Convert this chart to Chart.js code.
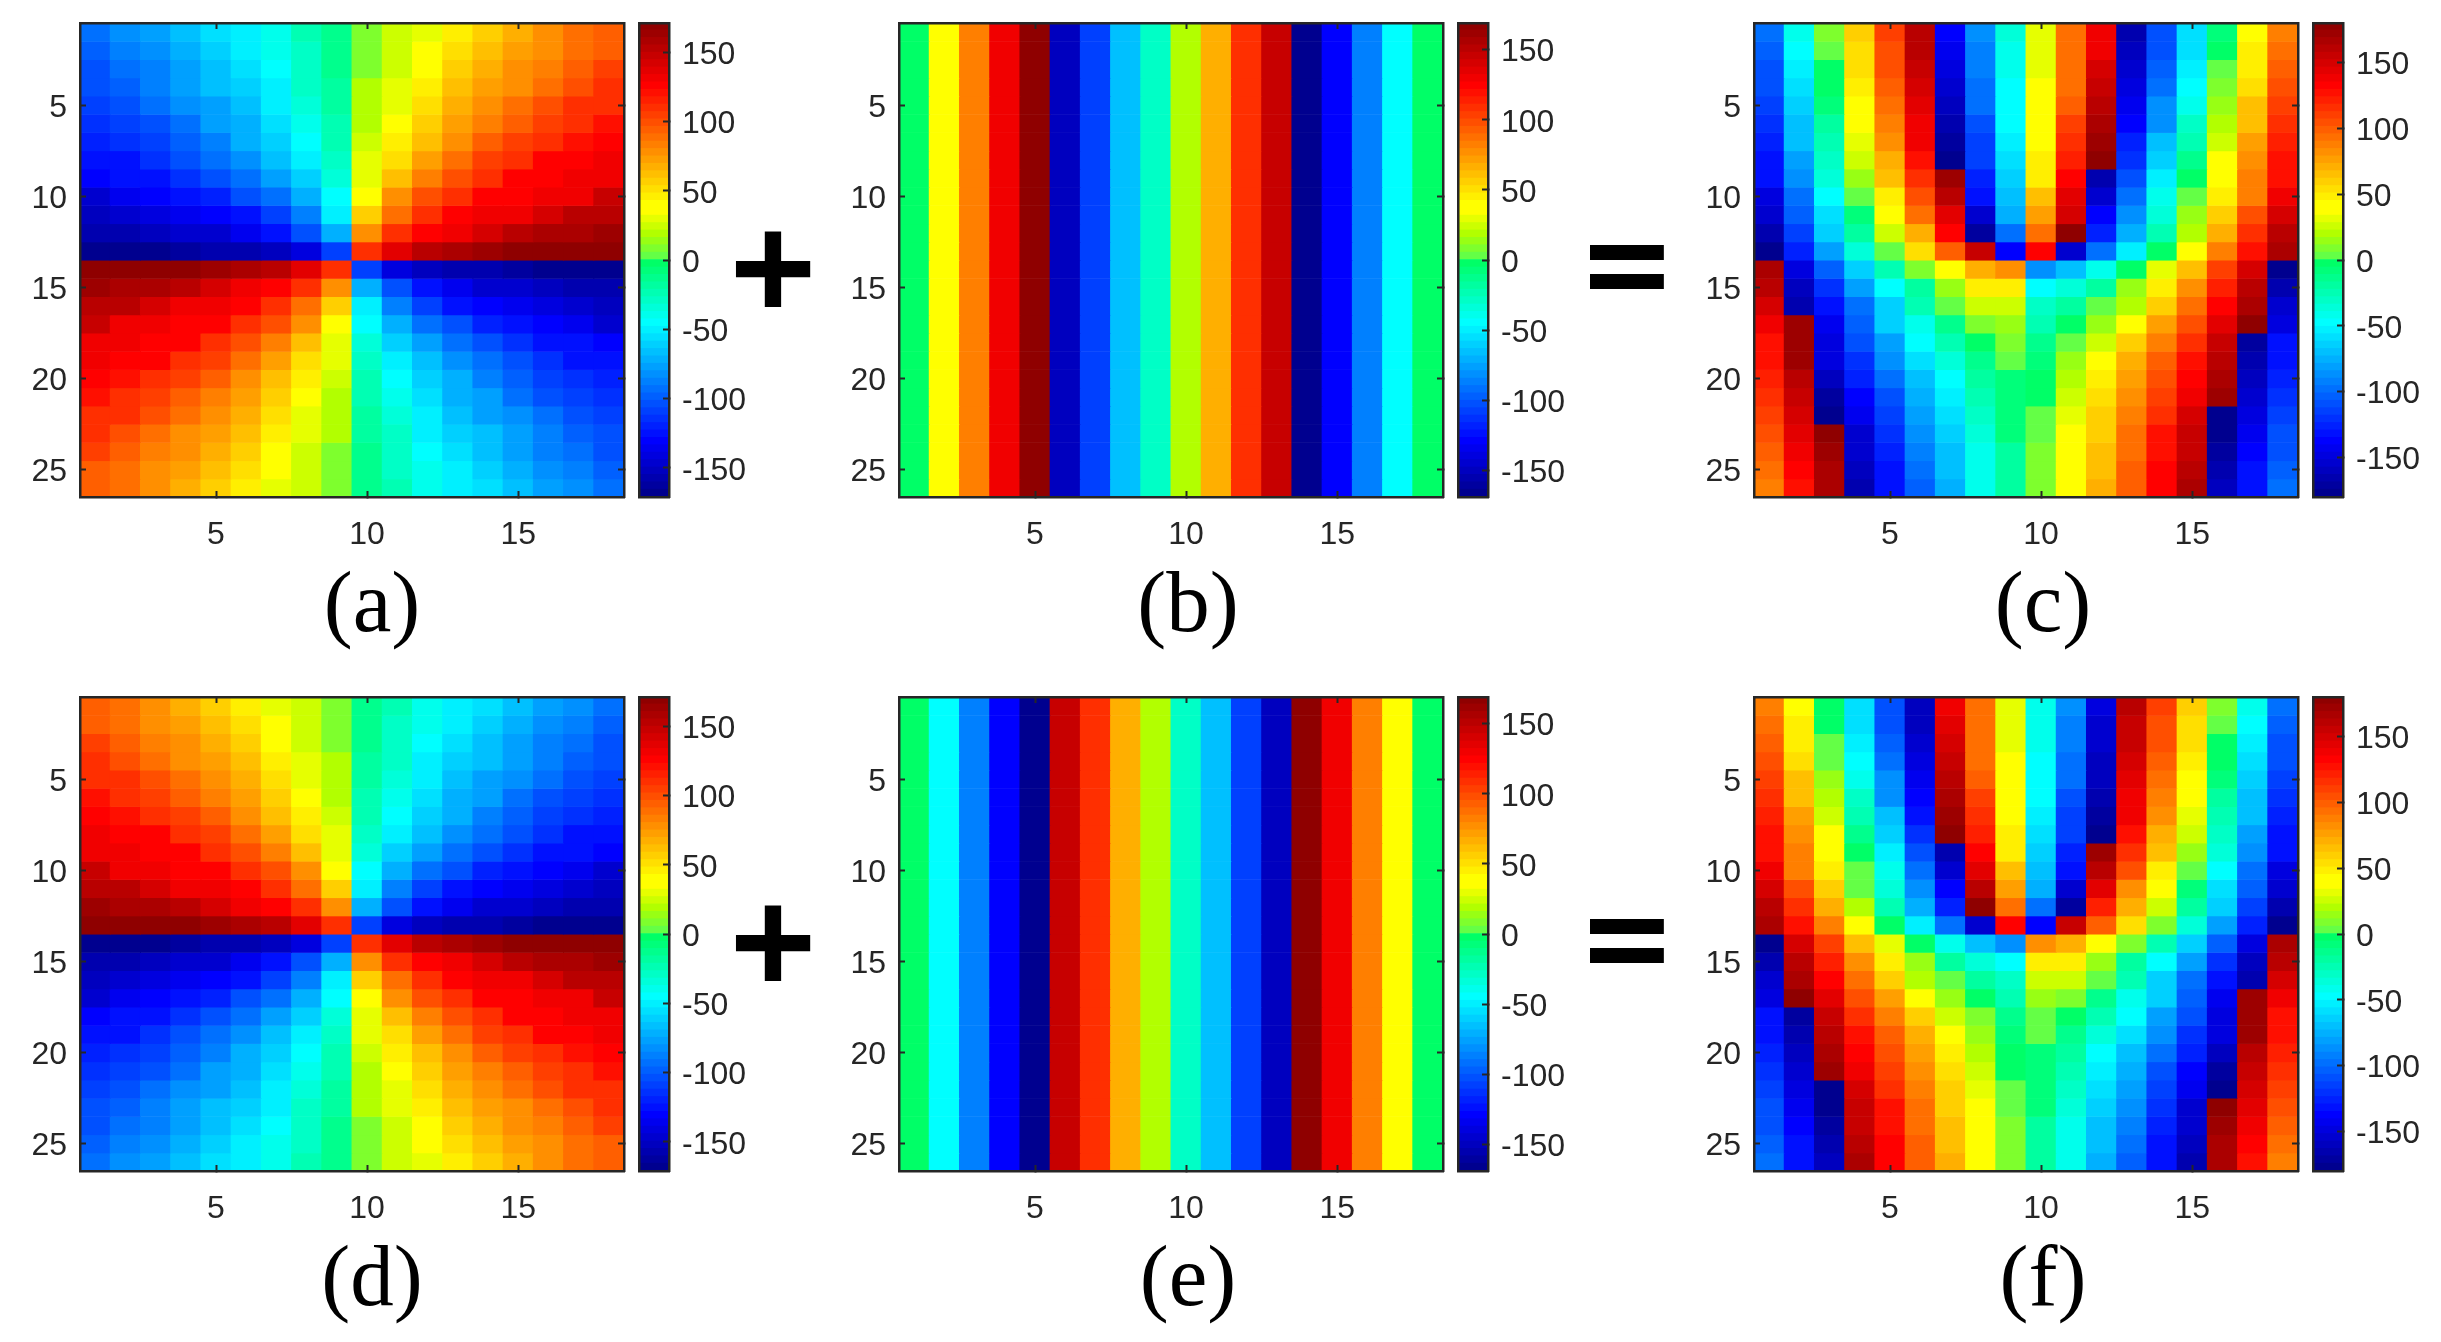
<!DOCTYPE html>
<html><head><meta charset="utf-8">
<script src="https://cdn.jsdelivr.net/npm/chart.js@4"></script>
<style>
html,body{margin:0;padding:0;background:#fff;width:2441px;height:1342px;overflow:hidden}
canvas{position:absolute}
.cap{position:absolute;font-family:"Liberation Serif",serif;font-size:87px;line-height:87px;color:#000;transform:translateX(-50%);white-space:pre}
.op{position:absolute;font-family:"Liberation Sans",sans-serif;font-weight:bold;font-size:148px;line-height:148px;color:#000;transform:translateX(-50%)}
.op.eq{font-family:"DejaVu Sans",sans-serif;font-size:118px;line-height:118px;transform:translateX(-50%) scaleY(1.1)}
</style></head><body>
<script>
const xTicks=[5,10,15];
const yTicks=[5,10,15,20,25];
const barTicks=[-150,-100,-50,0,50,100,150];
const columns=[1,2,3,4,5,6,7,8,9,10,11,12,13,14,15,16,17,18];
const rowNumbers=[1,2,3,4,5,6,7,8,9,10,11,12,13,14,15,16,17,18,19,20,21,22,23,24,25,26];

const panelA=[
[-92,-85,-78,-68,-58,-50,-38,-25,-12,10,22,32,48,58,68,80,86,92],
[-97,-90,-82,-72,-62,-53,-42,-27,-13,10,24,38,50,60,70,80,90,95],
[-102,-95,-86,-77,-65,-57,-45,-30,-14,9,25,40,55,65,75,85,95,102],
[-105,-100,-90,-80,-68,-60,-50,-32,-18,18,27,47,60,70,80,90,100,108],
[-110,-105,-95,-85,-75,-65,-50,-35,-20,18,32,50,66,78,88,98,108,112],
[-115,-110,-102,-92,-80,-70,-55,-42,-22,18,42,58,72,82,95,106,112,120],
[-120,-115,-108,-98,-88,-74,-62,-48,-25,22,45,62,80,95,105,112,120,125],
[-126,-123,-115,-105,-95,-82,-68,-52,-30,28,52,72,90,102,112,125,128,130],
[-130,-128,-123,-115,-104,-92,-80,-60,-34,30,62,85,100,112,125,128,130,132],
[-145,-138,-132,-128,-118,-106,-92,-70,-45,42,75,98,110,125,128,130,132,145],
[-150,-148,-144,-138,-132,-128,-108,-88,-50,55,90,112,125,130,132,142,150,152],
[-160,-156,-152,-148,-145,-138,-128,-105,-70,75,112,125,132,143,150,155,158,165],
[-170,-168,-167,-165,-160,-155,-150,-140,-110,110,135,152,157,165,170,170,170,170],
[170,170,170,168,165,157,152,135,110,-110,-140,-150,-155,-160,-165,-167,-168,-170],
[165,158,155,150,143,132,125,112,75,-70,-105,-128,-138,-145,-148,-152,-156,-160],
[152,150,142,132,130,125,112,90,55,-50,-88,-108,-128,-132,-138,-144,-148,-150],
[145,132,130,128,125,110,98,75,42,-45,-70,-92,-106,-118,-128,-132,-138,-145],
[132,130,128,125,112,100,85,62,30,-34,-60,-80,-92,-104,-115,-123,-128,-130],
[130,128,125,112,102,90,72,52,28,-30,-52,-68,-82,-95,-105,-115,-123,-126],
[125,120,112,105,95,80,62,45,22,-25,-48,-62,-74,-88,-98,-108,-115,-120],
[120,112,106,95,82,72,58,42,18,-22,-42,-55,-70,-80,-92,-102,-110,-115],
[112,108,98,88,78,66,50,32,18,-20,-35,-50,-65,-75,-85,-95,-105,-110],
[108,100,90,80,70,60,47,27,18,-18,-32,-50,-60,-68,-80,-90,-100,-105],
[102,95,85,75,65,55,40,25,9,-14,-30,-45,-57,-65,-77,-86,-95,-102],
[95,90,80,70,60,50,38,24,10,-13,-27,-42,-53,-62,-72,-82,-90,-97],
[92,86,80,68,58,48,32,22,10,-12,-25,-38,-50,-58,-68,-78,-85,-92]];

const panelB=[-5,42,82,128,168,-150,-110,-65,-28,20,68,108,145,-168,-128,-85,-45,-5];

const panelC=[
[-97,-43,7,60,110,160,-140,-90,-38,32,90,135,-165,-110,-60,-8,41,87],
[-102,-48,3,56,106,163,-145,-92,-41,30,92,140,-160,-108,-58,-5,45,90],
[-107,-53,-1,51,103,153,-150,-95,-42,29,93,148,-155,-103,-53,0,50,97],
[-110,-58,-5,48,100,150,-155,-97,-46,36,95,155,-150,-98,-48,8,55,103],
[-115,-63,-10,43,93,145,-160,-100,-48,38,100,158,-144,-90,-40,13,63,107],
[-120,-68,-17,36,88,140,-165,-107,-50,38,110,166,-138,-86,-33,21,67,115],
[-125,-73,-23,30,80,136,-172,-113,-53,42,113,170,-128,-73,-23,27,75,120],
[-131,-81,-30,23,73,128,-178,-117,-58,48,120,180,-120,-66,-16,40,83,125],
[-135,-86,-38,13,64,118,170,-125,-62,50,130,-167,-110,-56,-3,43,85,127],
[-150,-96,-47,0,50,102,158,-135,-73,62,143,-154,-100,-43,0,45,87,140],
[-155,-106,-59,-10,36,90,142,-153,-78,75,150,-140,-85,-38,12,57,105,147],
[-165,-114,-67,-20,23,72,132,-170,-98,95,180,-127,-78,-25,22,70,113,160],
[-175,-126,-82,-37,2,55,100,155,-138,130,-157,-100,-53,-3,42,85,125,165],
[165,-148,-105,-64,-27,7,42,70,82,-90,-72,-42,-5,32,67,108,147,-175],
[160,-160,-120,-82,-49,-18,15,47,47,-50,-37,-20,12,47,84,123,159,-165],
[147,-168,-133,-100,-62,-25,2,25,27,-30,-20,0,22,60,94,131,167,-155],
[140,174,-145,-104,-67,-40,-12,10,14,-25,-2,16,44,74,104,143,177,-150],
[127,172,-147,-107,-80,-50,-25,-3,8,-14,0,28,58,88,117,152,-173,-135],
[125,170,-150,-120,-90,-60,-38,-13,0,-10,16,40,68,97,127,160,-168,-131],
[120,162,-163,-127,-97,-70,-48,-20,-6,-5,20,46,76,104,134,167,-160,-125],
[115,154,-169,-137,-110,-78,-52,-23,-10,-2,26,53,80,112,140,173,-155,-120],
[107,150,-177,-144,-114,-84,-60,-33,-10,0,33,58,85,117,147,-180,-150,-115],
[103,142,175,-152,-122,-90,-63,-38,-10,2,36,58,90,124,152,-175,-145,-110],
[97,137,170,-157,-127,-95,-70,-40,-19,6,38,63,93,127,155,-171,-140,-107],
[90,132,165,-162,-132,-100,-72,-41,-18,7,41,66,97,130,160,-167,-135,-102],
[87,128,165,-164,-134,-102,-78,-43,-18,8,43,70,100,134,164,-163,-130,-97]];

const panelD=[
[92,86,80,68,58,48,32,22,10,-12,-25,-38,-50,-58,-68,-78,-85,-92],
[95,90,80,70,60,50,38,24,10,-13,-27,-42,-53,-62,-72,-82,-90,-97],
[102,95,85,75,65,55,40,25,9,-14,-30,-45,-57,-65,-77,-86,-95,-102],
[108,100,90,80,70,60,47,27,18,-18,-32,-50,-60,-68,-80,-90,-100,-105],
[112,108,98,88,78,66,50,32,18,-20,-35,-50,-65,-75,-85,-95,-105,-110],
[120,112,106,95,82,72,58,42,18,-22,-42,-55,-70,-80,-92,-102,-110,-115],
[125,120,112,105,95,80,62,45,22,-25,-48,-62,-74,-88,-98,-108,-115,-120],
[130,128,125,112,102,90,72,52,28,-30,-52,-68,-82,-95,-105,-115,-123,-126],
[132,130,128,125,112,100,85,62,30,-34,-60,-80,-92,-104,-115,-123,-128,-130],
[145,132,130,128,125,110,98,75,42,-45,-70,-92,-106,-118,-128,-132,-138,-145],
[152,150,142,132,130,125,112,90,55,-50,-88,-108,-128,-132,-138,-144,-148,-150],
[165,158,155,150,143,132,125,112,75,-70,-105,-128,-138,-145,-148,-152,-156,-160],
[170,170,170,168,165,157,152,135,110,-110,-140,-150,-155,-160,-165,-167,-168,-170],
[-170,-168,-167,-165,-160,-155,-150,-140,-110,110,135,152,157,165,170,170,170,170],
[-160,-156,-152,-148,-145,-138,-128,-105,-70,75,112,125,132,143,150,155,158,165],
[-150,-148,-144,-138,-132,-128,-108,-88,-50,55,90,112,125,130,132,142,150,152],
[-145,-138,-132,-128,-118,-106,-92,-70,-45,42,75,98,110,125,128,130,132,145],
[-130,-128,-123,-115,-104,-92,-80,-60,-34,30,62,85,100,112,125,128,130,132],
[-126,-123,-115,-105,-95,-82,-68,-52,-30,28,52,72,90,102,112,125,128,130],
[-120,-115,-108,-98,-88,-74,-62,-48,-25,22,45,62,80,95,105,112,120,125],
[-115,-110,-102,-92,-80,-70,-55,-42,-22,18,42,58,72,82,95,106,112,120],
[-110,-105,-95,-85,-75,-65,-50,-35,-20,18,32,50,66,78,88,98,108,112],
[-105,-100,-90,-80,-68,-60,-50,-32,-18,18,27,47,60,70,80,90,100,108],
[-102,-95,-86,-77,-65,-57,-45,-30,-14,9,25,40,55,65,75,85,95,102],
[-97,-90,-82,-72,-62,-53,-42,-27,-13,10,24,38,50,60,70,80,90,95],
[-92,-85,-78,-68,-58,-50,-38,-25,-12,10,22,32,48,58,68,80,86,92]];

const panelE=[-5,-45,-85,-128,-168,145,108,68,20,-28,-65,-110,-150,168,128,82,42,-5];

const panelF=[
[87,41,-5,-60,-110,-162,140,90,30,-40,-90,-148,160,110,60,7,-43,-97],
[90,45,-5,-58,-108,-160,146,92,30,-41,-92,-152,157,106,56,3,-48,-102],
[97,50,0,-53,-103,-155,148,93,29,-42,-95,-155,153,103,51,-1,-53,-107],
[103,55,5,-48,-98,-150,155,95,38,-46,-97,-160,150,100,48,-5,-58,-110],
[107,63,13,-40,-90,-144,158,100,38,-48,-100,-160,145,93,43,-10,-63,-115],
[115,67,21,-33,-86,-138,166,110,38,-50,-107,-165,140,88,36,-17,-68,-120],
[120,75,27,-23,-73,-130,170,113,42,-53,-113,-172,136,80,30,-23,-73,-125],
[125,83,40,-16,-66,-120,180,120,48,-58,-117,-178,128,73,23,-30,-81,-131],
[127,85,43,-3,-56,-110,-167,130,50,-62,-125,170,118,64,13,-38,-86,-135],
[140,87,45,0,-43,-100,-154,143,62,-73,-135,158,104,50,0,-47,-96,-150],
[147,105,57,4,-38,-85,-140,158,75,-78,-153,142,82,36,-10,-59,-106,-155],
[160,113,70,22,-25,-78,-127,180,95,-98,-170,122,72,23,-20,-67,-114,-165],
[165,125,85,40,-3,-53,-100,-157,130,-138,155,100,55,8,-37,-82,-126,-175],
[-175,147,108,67,32,-5,-42,-72,-90,82,70,42,7,-27,-62,-105,-148,165],
[-165,159,123,84,47,12,-20,-37,-50,47,47,15,-18,-49,-82,-120,-160,160],
[-155,167,131,94,60,22,0,-20,-30,27,25,2,-25,-62,-100,-133,-168,147],
[-150,177,143,104,74,44,16,-2,-25,14,10,-12,-40,-67,-104,-145,174,140],
[-135,-173,152,117,88,58,28,8,-14,2,-3,-25,-50,-80,-107,-147,172,127],
[-131,-168,160,127,97,68,40,16,-10,0,-13,-38,-60,-90,-120,-150,170,125],
[-125,-160,167,134,104,76,46,20,-5,-6,-20,-48,-70,-97,-127,-163,162,120],
[-120,-155,173,140,112,80,53,26,-2,-10,-23,-52,-78,-110,-137,-169,154,115],
[-115,-150,-180,147,117,85,58,33,0,-10,-33,-60,-84,-114,-144,-177,150,107],
[-110,-145,-175,152,124,90,58,36,2,-10,-38,-63,-90,-122,-152,175,142,103],
[-107,-140,-171,155,127,93,63,38,6,-19,-40,-70,-95,-127,-157,170,137,97],
[-102,-135,-167,160,130,97,66,41,7,-18,-41,-72,-100,-132,-162,165,132,90],
[-97,-130,-163,164,134,100,70,43,8,-18,-43,-78,-102,-134,-164,165,128,87]];

const INK='#262626', FONT='"Liberation Sans", Arial, sans-serif';
Chart.defaults.font.family=FONT;
Chart.defaults.font.size=32;
Chart.defaults.color=INK;

function bandColor(i){
  const k=i+1;let r,g,b;
  if(k<=8){r=0;g=0;b=143+16*(k-1);}
  else if(k<=24){r=0;g=Math.min(255,16*(k-8));b=255;}
  else if(k<=32){r=0;g=255;b=255-(k-24)*19;}
  else if(k<=40){r=Math.min(255,100+(k-33)*26);g=255;b=Math.max(0,70-(k-33)*25);}
  else if(k<=56){r=255;g=Math.max(0,255-16*(k-40));b=0;}
  else{r=255-(k-56)*14;g=0;b=0;}
  return `rgb(${r},${g},${b})`;
}
function colorFor(v,R){
  const i=Math.max(0,Math.min(63,Math.floor((v+R)/(2*R)*64)));
  return bandColor(i);
}
function frame(extra){
  return Object.assign({
    grid:{display:true,drawOnChartArea:false,drawTicks:true,tickLength:-6,tickColor:INK,tickWidth:2,offset:false,z:2},
    border:{display:true,color:INK,width:2.5,z:2}
  },extra);
}
function place(canvas,l,t,w,h){
  canvas.width=w;canvas.height=h;canvas.style.left=l+'px';canvas.style.top=t+'px';
  canvas.style.width=w+'px';canvas.style.height=h+'px';
  document.body.appendChild(canvas);
}
const keepX=s=>{s.ticks=s.ticks.filter(t=>xTicks.includes(columns[t.value]));};
const keepY=s=>{s.ticks=yTicks.map(v=>({value:v}));};
const size=(w,h)=>s=>{
  if(w!==null)s.width=w;
  if(h!==null)s.height=h;
  s.paddingTop=s.paddingBottom=s.paddingLeft=s.paddingRight=0;
};

function heatmap(rows,R,x0,x1,y0,y1){
  const PADL=70,PADB=64,PADT=10,PADR=10;
  const c=document.createElement('canvas');
  place(c,x0-PADL,y0-PADT,x1-x0+PADL+PADR,y1-y0+PADT+PADB);
  const datasets=rowNumbers.map((r,ri)=>({
    data:columns.map(()=>[r-0.5,r+0.53]),
    backgroundColor:columns.map((_,ci)=>colorFor(rows[ri][ci],R)),
    borderWidth:0,grouped:false,barPercentage:1,categoryPercentage:1.03,xAxisID:'x',yAxisID:'y'
  }));
  new Chart(c,{type:'bar',data:{labels:columns.map(String),datasets},options:{
    responsive:false,animation:false,events:[],
    layout:{padding:{left:0,top:PADT,right:PADR,bottom:0}},
    plugins:{legend:{display:false},tooltip:{enabled:false}},
    scales:{
      x:frame({type:'category',position:'bottom',offset:true,afterBuildTicks:keepX,
        afterFit:size(null,PADB),ticks:{autoSkip:false,maxRotation:0,padding:25}}),
      x2:frame({type:'category',labels:columns.map(String),position:'top',offset:true,afterBuildTicks:keepX,
        afterFit:size(null,0),ticks:{display:false}}),
      y:frame({type:'linear',position:'left',reverse:true,min:0.5,max:26.5,afterBuildTicks:keepY,
        afterFit:size(PADL,null),ticks:{padding:19,labelOffset:3}}),
      y2:frame({type:'linear',position:'right',reverse:true,min:0.5,max:26.5,afterBuildTicks:keepY,
        afterFit:size(0,null),ticks:{display:false}})
    }
  }});
}
function colorbar(R,x0,x1,y0,y1){
  const PADL=10,PADR=110,PADT=10,PADB=10;
  const c=document.createElement('canvas');
  place(c,x0-PADL,y0-PADT,x1-x0+PADL+PADR,y1-y0+PADT+PADB);
  const step=2*R/64, bands=[];
  for(let i=0;i<64;i++)bands.push(i);
  const datasets=bands.map(i=>({
    data:[[-R+i*step,-R+(i+1)*step+step*0.06]],backgroundColor:bandColor(i),
    borderWidth:0,grouped:false,barPercentage:1,categoryPercentage:1,xAxisID:'x',yAxisID:'y'
  }));
  const noMarks=o=>{const f=frame(o);f.grid.drawTicks=false;return f;};
  new Chart(c,{type:'bar',data:{labels:['phase'],datasets},options:{
    responsive:false,animation:false,events:[],
    layout:{padding:{left:PADL,top:PADT,right:0,bottom:PADB}},
    plugins:{legend:{display:false},tooltip:{enabled:false}},
    scales:{
      x:noMarks({type:'category',position:'bottom',afterFit:size(null,0),ticks:{display:false}}),
      x2:noMarks({type:'category',labels:['phase'],position:'top',afterFit:size(null,0),ticks:{display:false}}),
      y:frame({type:'linear',position:'right',min:-R,max:R,afterBuildTicks:s=>{s.ticks=barTicks.map(v=>({value:v}));},
        afterFit:size(PADR,null),ticks:{padding:19,labelOffset:3,callback:v=>String(v)}}),
      y2:noMarks({type:'linear',position:'left',min:-R,max:R,afterFit:size(0,null),ticks:{display:false}})
    }
  }});
}
function text(cls,str,x,y){
  const d=document.createElement('div');d.className=cls;d.textContent=str;
  d.style.left=x+'px';d.style.top=y+'px';document.body.appendChild(d);
}
const Y1=[23,497],Y2=[697,1171];
heatmap(panelA,171,80,624,...Y1);   colorbar(171,639,669,...Y1);
heatmap(rowNumbers.map(()=>panelB),169,899,1443,...Y1); colorbar(169,1458,1488,...Y1);
heatmap(panelC,180,1754,2298,...Y1); colorbar(180,2313,2343,...Y1);
heatmap(panelD,171,80,624,...Y2);   colorbar(171,639,669,...Y2);
heatmap(rowNumbers.map(()=>panelE),169,899,1443,...Y2); colorbar(169,1458,1488,...Y2);
heatmap(panelF,180,1754,2298,...Y2); colorbar(180,2313,2343,...Y2);

text('cap','(a)',372,558);text('cap','(b)',1188,558);text('cap','(c)',2043,558);
text('cap','(d)',372,1232);text('cap','(e)',1188,1232);text('cap','(f)',2043,1232);
text('op','+',773,194);text('op','+',773,868);
text('op eq','=',1627,204);text('op eq','=',1627,878);
</script>
</body></html>
